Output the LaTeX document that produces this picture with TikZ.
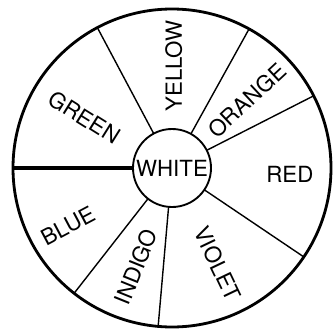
\documentclass[tikz,border=0pt]{standalone}
\usepackage{fontspec}
\setsansfont{TeX Gyre Heros}
\usepackage{tikz}

\begin{document}
\begin{tikzpicture}[
    rim/.style={circle,draw=black,line width=2.4pt,inner sep=0pt,outer sep=0pt,minimum size=9.54cm},
    hub/.style={circle,draw=black,line width=1.6pt,fill=white,inner sep=0pt,outer sep=0pt,minimum size=2.34cm,font=\fontsize{19}{21}\selectfont\sffamily},
    spoke/.style={line width=1.2pt,black},
    colour/.style={font=\fontsize{19}{21}\selectfont\sffamily,inner sep=0pt},
]
\useasboundingbox (-5.16,-4.83) rectangle (4.86,5.04);
\node[rim]  (wheel) at (0,0) {};
\node[hub]  (white) at (0,0) {WHITE};

\draw[spoke] (white.118)  -- (wheel.118);
\draw[spoke] (white.61)   -- (wheel.61);
\draw[spoke] (white.27)   -- (wheel.27);
\draw[spoke] (white.-34)  -- (wheel.-34);
\draw[spoke] (white.-95)  -- (wheel.-95);
\draw[spoke] (white.-128) -- (wheel.-128);
\draw[spoke,line width=3.2pt] (white.180) -- (wheel.180);

\node[colour,rotate=90]    (yellow) at (89:3.06)   {YELLOW};
\node[colour,rotate=43]    (orange) at (42:3.03)   {ORANGE};
\node[colour]              (red)    at (-3:3.54)   {RED};
\node[colour,rotate=-64.5] (violet) at (-64.5:3.18) {VIOLET};
\node[colour,rotate=68]    (indigo) at (-110:3.15) {INDIGO};
\node[colour,rotate=28]    (blue)   at (209:3.57)  {BLUE};
\node[colour,rotate=-32]   (green)  at (150:3.03)  {GREEN};
\end{tikzpicture}
\end{document}
